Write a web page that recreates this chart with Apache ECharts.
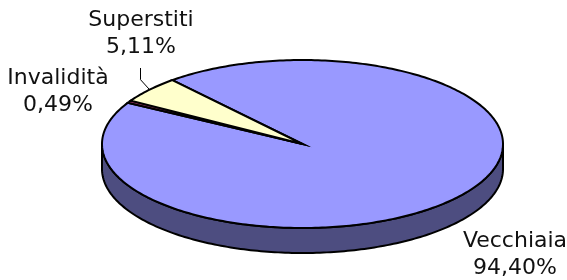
<!DOCTYPE html>
<html>
<head>
<meta charset="utf-8">
<script src="https://cdn.jsdelivr.net/npm/echarts@6/dist/echarts.min.js"></script>
<style>
  html, body { margin: 0; padding: 0; background: #fff; }
  #chart { width: 567px; height: 280px; }
</style>
</head>
<body>
<div id="chart"></div>
<script>
const categories = ['Vecchiaia', 'Invalidità', 'Superstiti'];
const values = [94.40, 0.49, 5.11];
const colors = ['#9999ff', '#993366', '#ffffcc'];
const sideColors = ['#4d4d80', '#4d1a33', '#80806a'];

// layout of the flattened pie (excel style 3d)
const cx = 302.5, cy = 144, rx = 200.5, ry = 84, depth = 25;
const startAngle = 130.5; // slices run clockwise from here
const labelPos = [[515, 255], [58, 92], [141, 34]];
const leader = [false, false, true];

const total = values.reduce((a, b) => a + b, 0);
const angles = [];
let a = startAngle;
values.forEach(v => {
  const b = a - v / total * 360;
  angles.push([a, b]);
  a = b;
});

const pt = function(deg, dy = 0) {
  const r = deg * Math.PI / 180;
  return [cx + rx * Math.cos(r), cy - ry * Math.sin(r) + dy];
};

const arc = function(from, to, dy = 0) {
  const n = Math.max(2, Math.ceil(Math.abs(from - to)));
  const pts = [];
  for (let i = 0; i <= n; i++) {
    pts.push(pt(from + (to - from) * i / n, dy));
  }
  return pts;
};

const fmt = v => v.toFixed(2).replace('.', ',') + '%';

const renderItem = function(params, api) {
  const i = params.dataIndex;
  const [a0, a1] = angles[i];
  const children = [];

  // visible front wall
  for (let k = -2; k <= 2; k++) {
    const lo = Math.max(a1, 180 + 360 * k);
    const hi = Math.min(a0, 360 + 360 * k);
    if (hi > lo) {
      const top = arc(hi, lo);
      const bottom = arc(lo, hi, depth);
      children.push({
        type: 'polygon',
        z2: 1,
        shape: { points: top.concat(bottom) },
        style: { fill: sideColors[i], stroke: '#000', lineWidth: 2, lineJoin: 'round' }
      });
    }
  }

  // top face
  children.push({
    type: 'polygon',
    z2: 2,
    shape: { points: [[cx, cy]].concat(arc(a0, a1)) },
    style: { fill: colors[i], stroke: '#000', lineWidth: 2, lineJoin: 'miter' }
  });

  const [lx, ly] = labelPos[i];
  children.push({
    type: 'text',
    z2: 3,
    style: {
      text: categories[i] + '\n' + fmt(values[i]),
      x: lx,
      y: ly,
      align: 'center',
      verticalAlign: 'middle',
      fontFamily: 'Verdana, "DejaVu Sans", sans-serif',
      fontSize: 22,
      lineHeight: 27,
      fill: '#111'
    }
  });

  if (leader[i]) {
    const e = pt((a0 + a1) / 2);
    const lineX = Math.round(lx) - 0.5;
    const bottomY = ly + 27 + 7;
    children.push({
      type: 'polyline',
      z2: 3,
      shape: { points: [e, [lineX, e[1] - 10], [lineX, bottomY]] },
      style: { stroke: '#000', lineWidth: 1, fill: null }
    });
  }

  return { type: 'group', children };
};

const myChart = echarts.init(document.querySelector('#chart'));

const option = {
  backgroundColor: '#fff',
  animation: false,
  series: [
    {
      type: 'custom',
      coordinateSystem: 'none',
      renderItem,
      data: values.map((v, i) => ({ name: categories[i], value: v }))
    }
  ]
};

myChart.setOption(option);
</script>
</body>
</html>
